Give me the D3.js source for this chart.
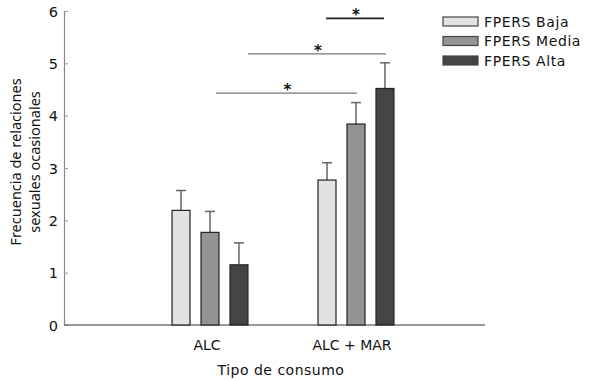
<!DOCTYPE html>
<html>
<head>
<meta charset="utf-8">
<script src="https://cdn.jsdelivr.net/npm/d3@7"></script>
<style>
  body { margin: 0; background: #fff; }
  svg text { font-family: "DejaVu Sans", sans-serif; fill: #111; }
</style>
</head>
<body>
<div id="chart"></div>
<script>
// datos
const categorias = ["ALC", "ALC + MAR"];
const niveles = ["FPERS Baja", "FPERS Media", "FPERS Alta"];
const medias = {
    "ALC":       [2.19, 1.77, 1.15],
    "ALC + MAR": [2.77, 3.84, 4.52]
};
const errores = {
    "ALC":       [0.38, 0.40, 0.42],
    "ALC + MAR": [0.33, 0.41, 0.49]
};
const yTicks = [0, 1, 2, 3, 4, 5, 6];
// comparaciones significativas (categoria, índice de nivel) y altura
const comparaciones = [
    { desde: ["ALC + MAR", 0], hasta: ["ALC + MAR", 2], y: 5.86 },
    { desde: ["ALC", 2], hasta: ["ALC + MAR", 2], y: 5.18 },
    { desde: ["ALC", 1], hasta: ["ALC + MAR", 1], y: 4.43 }
];

const colores = ["#e2e2e4", "#949494", "#444446"];

const width = 589, height = 380;
const margin = { top: 11, right: 104, bottom: 55, left: 64 };

const svg = d3.select("#chart").append("svg")
    .attr("width", width)
    .attr("height", height);

const g = svg.append("g")
    .attr("transform", `translate(${margin.left},${margin.top})`);

const innerW = width - margin.left - margin.right;
const innerH = height - margin.top - margin.bottom;

const x0 = d3.scaleBand()
    .domain(categorias)
    .range([0, 438])
    .paddingInner(0.48)
    .paddingOuter(0.74);

const x1 = d3.scaleBand()
    .domain(niveles)
    .range([0, x0.bandwidth()])
    .paddingInner(0.38);

const y = d3.scaleLinear().domain([0, 6]).range([innerH, 0]);

// **Eje Y**
const ejeY = g.append("g")
    .call(d3.axisRight(y).tickValues(yTicks).tickSize(4).tickFormat(""));
ejeY.select(".domain").attr("stroke", "#888").attr("stroke-width", 1.2);
ejeY.selectAll(".tick line").attr("stroke", "#999");
ejeY.selectAll(".tick").append("text")
    .attr("x", -6)
    .attr("dy", "0.36em")
    .attr("text-anchor", "end")
    .attr("font-size", "14.5px")
    .text(d => d);

// **Eje X**
g.append("line")
    .attr("x1", 0).attr("x2", innerW)
    .attr("y1", innerH).attr("y2", innerH)
    .attr("stroke", "#777").attr("stroke-width", 1.5);

const ejeX = g.append("g")
    .attr("transform", `translate(0,${innerH})`)
    .call(d3.axisBottom(x0).tickSize(0).tickPadding(15));
ejeX.select(".domain").remove();
ejeX.selectAll("text")
    .attr("font-size", "14px")
    .style("font-family", "'DejaVu Sans', sans-serif")
    .attr("fill", "#111")
    .attr("dx", (d, i) => i === 0 ? -3 : -4);

// **Barras**
const grupos = g.selectAll(".grupo")
    .data(categorias)
    .enter().append("g")
    .attr("transform", d => `translate(${x0(d)},0)`);

grupos.each(function (cat) {
    const sel = d3.select(this);
    niveles.forEach((n, i) => {
        const cx = x1(n) + x1.bandwidth() / 2;
        const top = y(medias[cat][i]);
        const errTop = y(medias[cat][i] + errores[cat][i]);
        sel.append("line")
            .attr("x1", cx).attr("x2", cx)
            .attr("y1", top).attr("y2", errTop)
            .attr("stroke", "#666").attr("stroke-width", 1.5);
        sel.append("line")
            .attr("x1", cx - 5).attr("x2", cx + 5)
            .attr("y1", errTop).attr("y2", errTop)
            .attr("stroke", "#666").attr("stroke-width", 1.5);
        sel.append("rect")
            .attr("x", x1(n))
            .attr("y", top)
            .attr("width", x1.bandwidth())
            .attr("height", innerH - top)
            .attr("fill", colores[i])
            .attr("stroke", "#222")
            .attr("stroke-width", 1.2);
    });
});

// **Comparaciones significativas**
const centro = ([cat, i]) => x0(cat) + x1(niveles[i]) + x1.bandwidth() / 2;
const ajusteIni = [-1, x1.bandwidth() / 2, 6];
const ajusteFin = [-1, 1, 1];
comparaciones.forEach((c, k) => {
    const a = centro(c.desde) + ajusteIni[k];
    const b = centro(c.hasta) + ajusteFin[k];
    g.append("line")
        .attr("x1", a).attr("x2", b)
        .attr("y1", y(c.y)).attr("y2", y(c.y))
        .attr("stroke", k === 0 ? "#222" : "#777")
        .attr("stroke-width", k === 0 ? 1.6 : 1.3);
    g.append("text")
        .attr("x", (a + b) / 2 + 1)
        .attr("y", y(c.y) + 2)
        .attr("text-anchor", "middle")
        .attr("font-size", "15px")
        .attr("font-weight", "bold")
        .text("*");
});

// **Leyenda**
const leyenda = svg.append("g").attr("transform", "translate(443,17)");
niveles.forEach((n, i) => {
    leyenda.append("rect")
        .attr("x", 0).attr("y", i * 19.5)
        .attr("width", 35).attr("height", 9)
        .attr("fill", colores[i])
        .attr("stroke", "#444").attr("stroke-width", 1.2);
    leyenda.append("text")
        .attr("x", 41).attr("y", i * 19.5 + 4.5)
        .attr("dy", "0.36em")
        .attr("font-size", "14px")
        .attr("letter-spacing", "0.6px")
        .text(n);
});

// **Títulos de ejes**
const tituloY = svg.append("text")
    .attr("transform", "translate(21,162) rotate(-90)")
    .attr("text-anchor", "middle")
    .attr("font-size", "14.5px")
    .style("font-family", "'Noto Sans', sans-serif");
tituloY.append("tspan").attr("x", 0).attr("dy", 0).text("Frecuencia de relaciones");
tituloY.append("tspan").attr("x", 0).attr("dy", 19).text("sexuales ocasionales");

svg.append("text")
    .attr("x", 281)
    .attr("y", 375)
    .attr("text-anchor", "middle")
    .attr("font-size", "14px")
    .attr("letter-spacing", "0.5px")
    .text("Tipo de consumo");
</script>
</body>
</html>
